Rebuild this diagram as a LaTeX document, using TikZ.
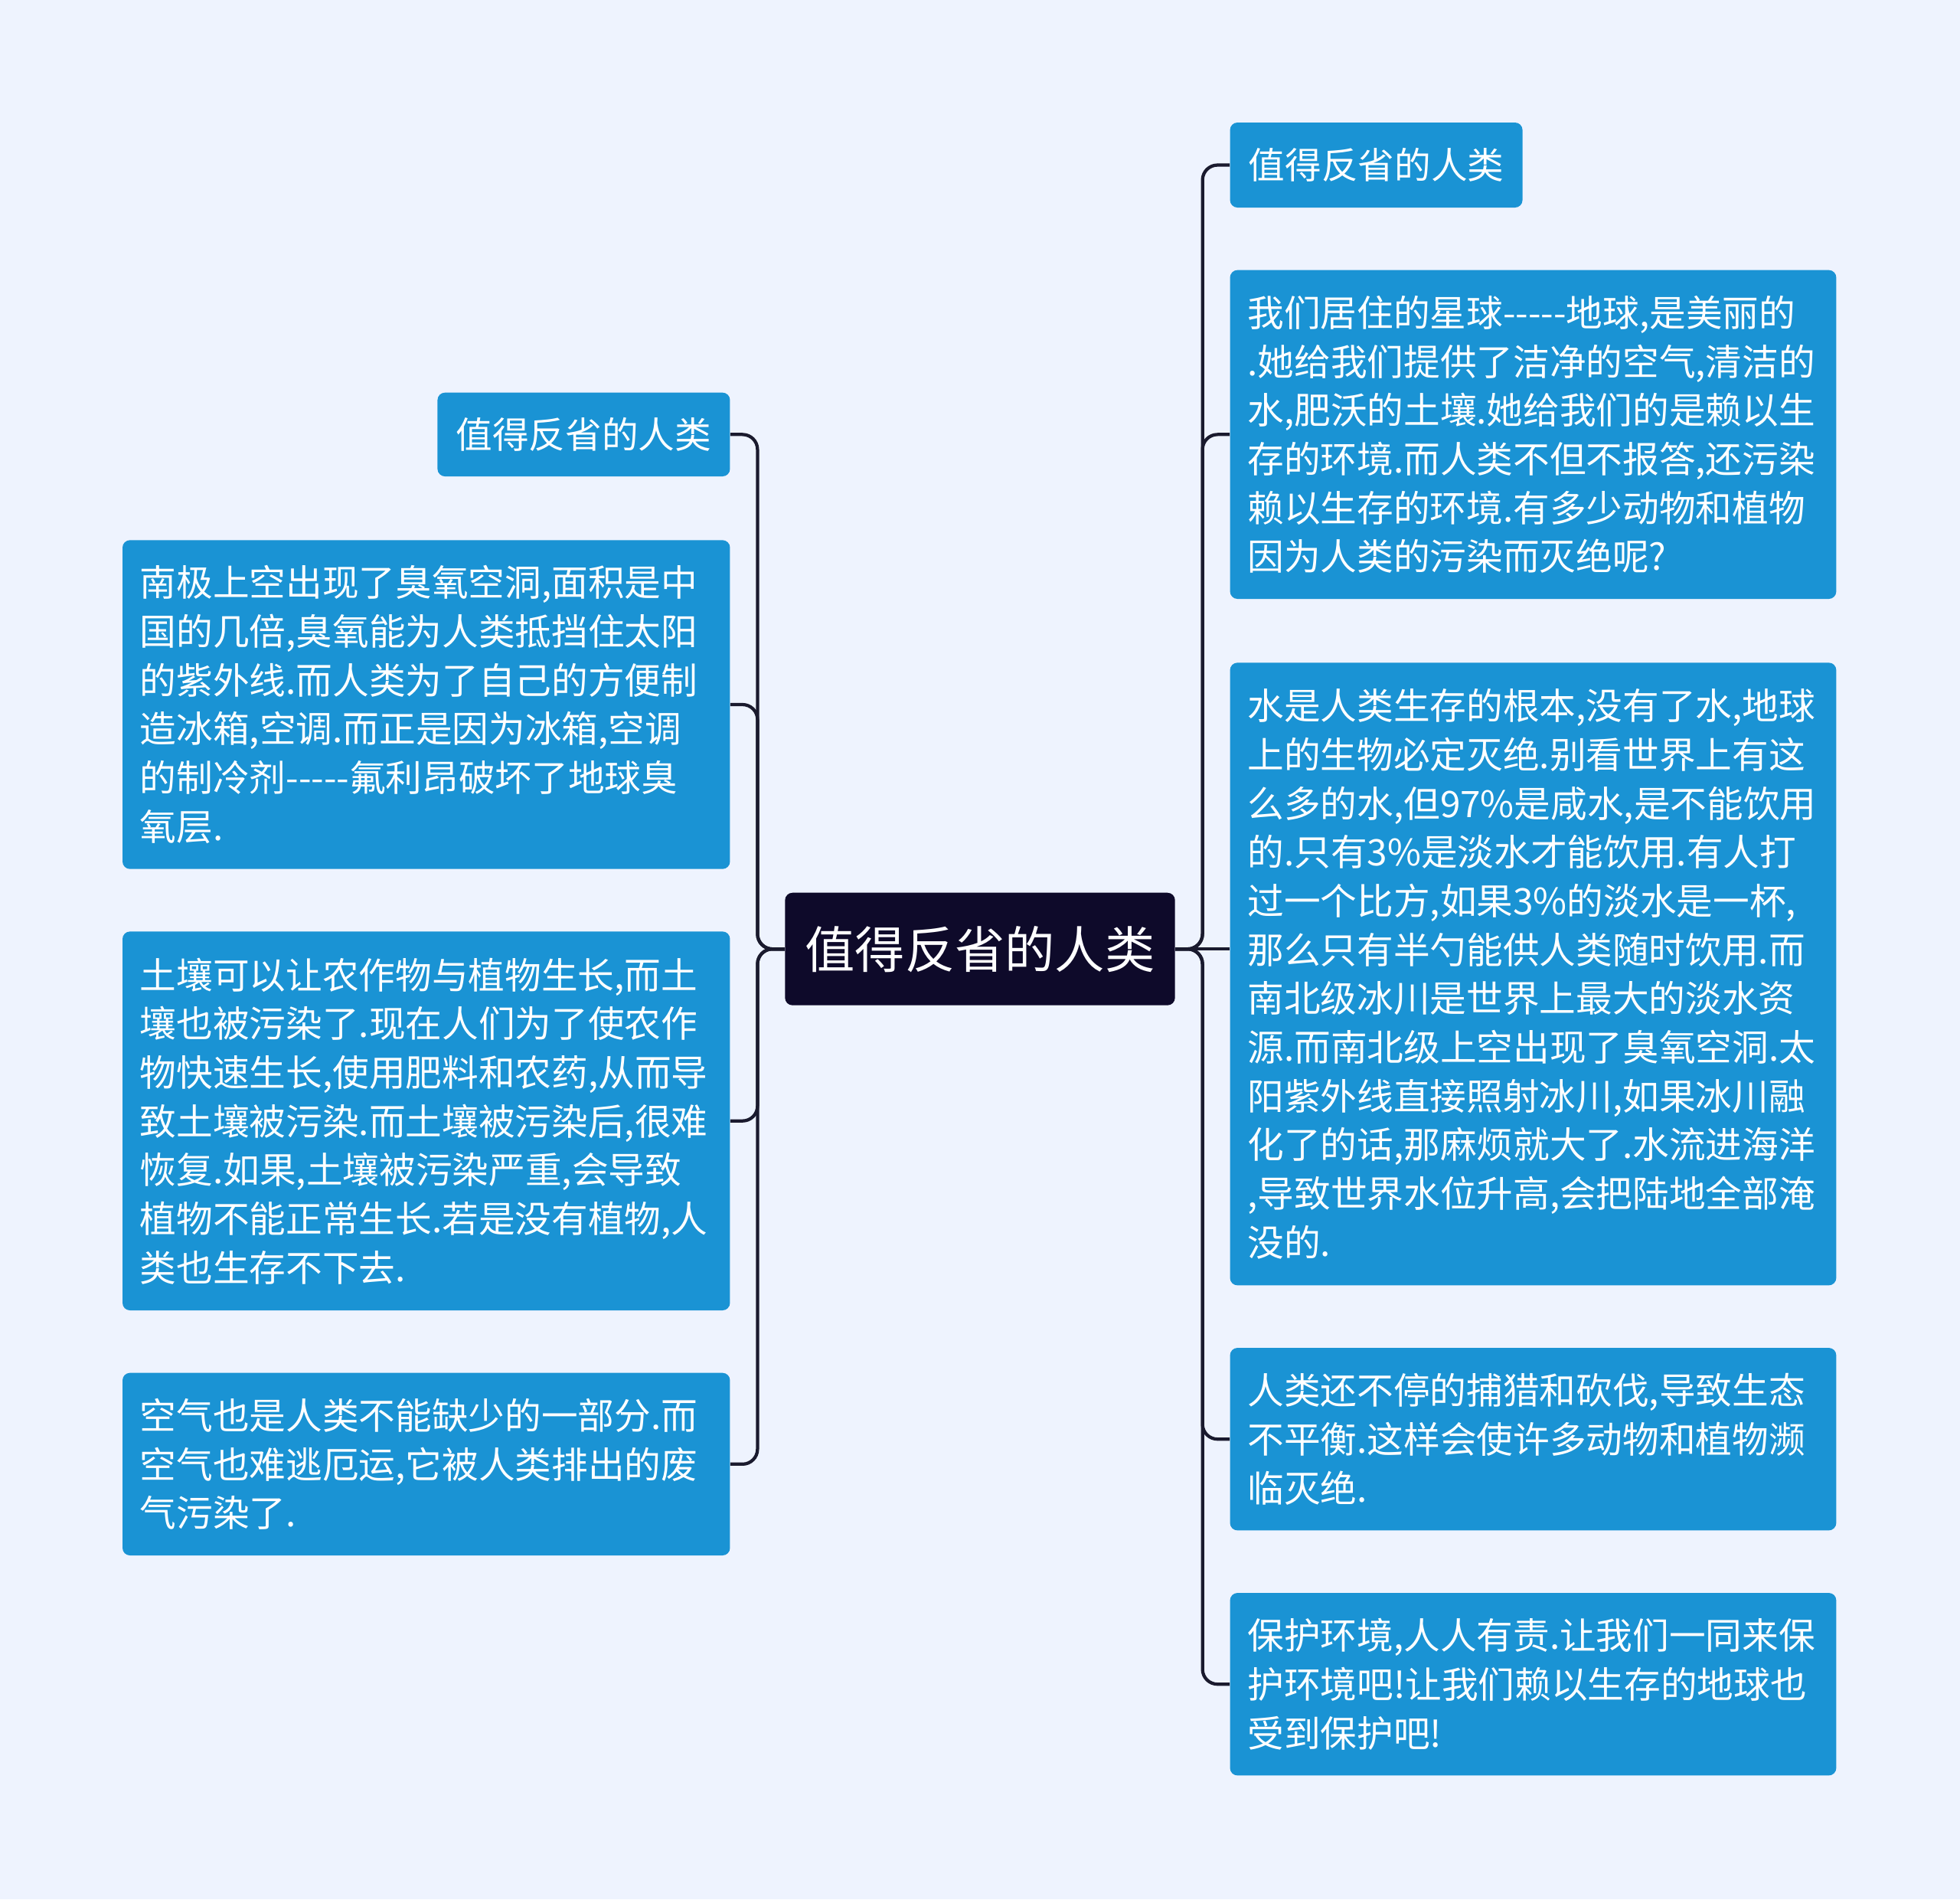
\documentclass[tikz,border=0pt]{standalone}
\usepackage{fontspec}
\setmainfont{Noto Sans CJK SC}[Ligatures=NoCommon]
\newcommand{\dd}{{-}{-}{-}{-}{-}}
\begin{document}
\begin{tikzpicture}[x=1pt,y=-1pt,
 leaf/.style={fill=leafblue,rounded corners=6pt,text=white,align=left,font=\fontsize{29.2}{39}\selectfont,inner sep=0pt,anchor=center},
 conn/.style={draw=linedark,line width=2.6pt,rounded corners=12pt}]
\definecolor{bg}{HTML}{EEF3FE}
\definecolor{leafblue}{HTML}{1A93D4}
\definecolor{linedark}{HTML}{1A1A2E}
\definecolor{cdark}{HTML}{0E0A2A}
\fill[bg] (0,0) rectangle (1568,1519);
\useasboundingbox (0,0) rectangle (1568,1519);
\node[fill=cdark,rounded corners=6pt,text=white,font=\fontsize{40}{48}\selectfont,minimum width=312pt,minimum height=90pt,inner sep=0pt] (c) at (784,759) {值得反省的人类};
% left
\node[leaf,minimum width=234pt,minimum height=67pt] (l1) at (467,347.5) {值得反省的人类};
\node[leaf,minimum width=486pt,minimum height=263pt,text width=458pt] (l2) at (341,563.5) {南极上空出现了臭氧空洞,面积是中\\国的几倍,臭氧能为人类抵挡住太阳\\的紫外线.而人类为了自己的方便制\\造冰箱,空调.而正是因为冰箱,空调\\的制冷剂\dd 氟利昂破坏了地球臭\\氧层.};
\node[leaf,minimum width=486pt,minimum height=303pt,text width=458pt] (l3) at (341,896.5) {土壤可以让农作物与植物生长,而土\\壤也被污染了.现在人们为了使农作\\物快速生长,使用肥料和农药,从而导\\致土壤被污染.而土壤被污染后,很难\\恢复.如果,土壤被污染严重,会导致\\植物不能正常生长.若是没有植物,人\\类也生存不下去.};
\node[leaf,minimum width=486pt,minimum height=146pt,text width=458pt] (l4) at (341,1171) {空气也是人类不能缺少的一部分.而\\空气也难逃厄运,它被人类排出的废\\气污染了.};
% right
\node[leaf,minimum width=234pt,minimum height=68pt] (r1) at (1101,132) {值得反省的人类};
\node[leaf,minimum width=485pt,minimum height=263pt,text width=457pt] (r2) at (1226.5,347.5) {我们居住的星球\dd 地球,是美丽的\\.她给我们提供了洁净的空气,清洁的\\水,肥沃的土壤.她给我们的是赖以生\\存的环境.而人类不但不报答,还污染\\赖以生存的环境.有多少动物和植物\\因为人类的污染而灭绝呢?};
\node[leaf,minimum width=485pt,minimum height=498pt,text width=457pt] (r3) at (1226.5,779) {水是人类生存的根本,没有了水,地球\\上的生物必定灭绝.别看世界上有这\\么多的水,但97\%是咸水,是不能饮用\\的.只有3\%是淡水才能饮用.有人打\\过一个比方,如果3\%的淡水是一杯,\\那么只有半勺能供人类随时饮用.而\\南北级冰川是世界上最大的淡水资\\源.而南北级上空出现了臭氧空洞.太\\阳紫外线直接照射冰川,如果冰川融\\化了的话,那麻烦就大了.水流进海洋\\,导致世界水位升高,会把陆地全部淹\\没的.};
\node[leaf,minimum width=485pt,minimum height=146pt,text width=457pt] (r4) at (1226.5,1151) {人类还不停的捕猎和砍伐,导致生态\\不平衡.这样会使许多动物和植物濒\\临灭绝.};
\node[leaf,minimum width=485pt,minimum height=146pt,text width=457pt] (r5) at (1226.5,1347) {保护环境,人人有责.让我们一同来保\\护环境吧!让我们赖以生存的地球也\\受到保护吧!};
% connectors
\foreach \n in {l1,l2,l3,l4}{
 \draw[conn] (c.west) -- (606,759) |- (\n.east);
}
\foreach \n in {r1,r2,r4,r5}{
 \draw[conn] (c.east) -- (962,759) |- (\n.west);
}
\draw[conn] (c.east) -- (r3.west|-c.east);
\end{tikzpicture}
\end{document}
